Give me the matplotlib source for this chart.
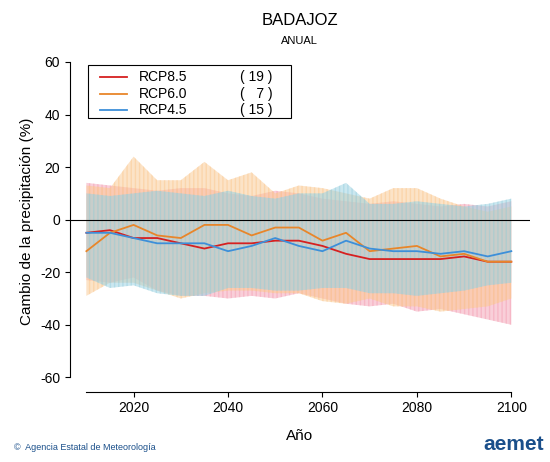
import matplotlib
matplotlib.use('Agg')
import matplotlib.pyplot as plt
from matplotlib.patches import Rectangle

plt.rcParams['font.family'] = ['Liberation Sans', 'DejaVu Sans']
plt.rcParams['axes.unicode_minus'] = False

# ---------------- DATA ----------------
years = [2010, 2015, 2020, 2025, 2030, 2035, 2040, 2045, 2050, 2055,
         2060, 2065, 2070, 2075, 2080, 2085, 2090, 2095, 2100]

rcp85_mean = [-5, -4, -7, -7, -9, -11, -9, -9, -8, -8, -10, -13, -15, -15, -15, -15, -14, -16, -16]
rcp85_hi = [14, 13, 12, 11, 12, 12, 10, 9, 11, 10, 8, 7, 6, 7, 6, 5, 6, 5, 7]
rcp85_lo = [-23, -24, -22, -27, -29, -29, -30, -29, -30, -28, -30, -32, -33, -32, -35, -34, -36, -38, -40]

rcp60_mean = [-12, -5, -2, -6, -7, -2, -2, -6, -3, -3, -8, -5, -12, -11, -10, -14, -13, -16, -16]
rcp60_hi = [13, 12, 24, 15, 15, 22, 15, 18, 10, 13, 12, 10, 8, 12, 12, 8, 5, 3, 5]
rcp60_lo = [-29, -24, -24, -27, -30, -28, -27, -27, -28, -28, -31, -32, -30, -33, -33, -35, -34, -33, -30]

rcp45_mean = [-5, -5, -7, -9, -9, -9, -12, -10, -7, -10, -12, -8, -11, -12, -12, -13, -12, -14, -12]
rcp45_hi = [10, 9, 10, 11, 10, 9, 11, 9, 8, 10, 10, 14, 6, 6, 7, 6, 5, 6, 8]
rcp45_lo = [-22, -26, -25, -28, -29, -29, -26, -26, -27, -27, -26, -26, -28, -28, -29, -28, -27, -25, -24]

labels = ['RCP8.5', 'RCP6.0', 'RCP4.5']
counts = ['( 19 )', '(   7 )', '( 15 )']
# --------------------------------------

series = [
    (rcp85_mean, rcp85_hi, rcp85_lo, '#d62020', '#f4a0b4'),
    (rcp60_mean, rcp60_hi, rcp60_lo, '#e8862a', '#fbc890'),
    (rcp45_mean, rcp45_hi, rcp45_lo, '#3d8fd9', '#98d0e0'),
]

fig = plt.figure(figsize=(5.5, 4.62), dpi=100)
ax = fig.add_axes([0.127, 0.152, 0.837, 0.74])

for mean, hi, lo, c, fc in series:
    ax.fill_between(years, lo, hi, facecolor=fc, alpha=0.5, edgecolor=fc,
                    hatch='||||', linewidth=0)
for mean, hi, lo, c, fc in series:
    ax.plot(years, mean, color=c, linewidth=1.3)

ax.axhline(0, color='black', linewidth=0.8)

ax.set_xlim(2006.5, 2104)
ax.set_ylim(-65.5, 64.6)
ax.set_xticks([2020, 2040, 2060, 2080, 2100])
ax.set_yticks(range(-60, 61, 20))
for s in ['top', 'right']:
    ax.spines[s].set_visible(False)
ax.spines['left'].set_bounds(-60, 60)
ax.spines['bottom'].set_bounds(2010, 2100)
ax.tick_params(labelsize=10)
ax.set_xlabel('Año', fontsize=11, labelpad=10)
ax.set_ylabel('Cambio de la precipitación (%)', fontsize=11)

# legend box
ax.add_patch(Rectangle((0.04, 0.8), 0.44, 0.155, transform=ax.transAxes,
                       fill=False, edgecolor='black', linewidth=0.8))
for i, (lab, cnt) in enumerate(zip(labels, counts)):
    y = 0.92 - i * 0.048
    ax.plot([0.065, 0.125], [y, y], transform=ax.transAxes, color=series[i][3], linewidth=1.3)
    ax.text(0.15, y, lab, transform=ax.transAxes, va='center', fontsize=10)
    ax.text(0.37, y, cnt, transform=ax.transAxes, va='center', fontsize=10)

fig.text(0.545, 0.945, 'BADAJOZ', ha='center', fontsize=12)
fig.text(0.545, 0.905, 'ANUAL', ha='center', fontsize=8)
fig.text(0.025, 0.025, '©  Agencia Estatal de Meteorología', fontsize=6.5, color='#1a4f8a')
fig.text(0.99, 0.025, 'aemet', ha='right', fontsize=15, fontweight='bold', color='#1a4f8a')

fig.savefig('out.png', dpi=100)
